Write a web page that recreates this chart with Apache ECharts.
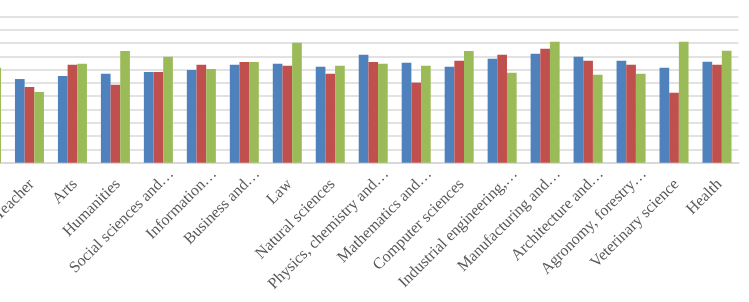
<!DOCTYPE html>
<html>
<head>
<meta charset="utf-8">
<script src="https://cdn.jsdelivr.net/npm/echarts@6/dist/echarts.min.js"></script>
<style>
  html, body { margin: 0; padding: 0; background: #fff; }
  #chart { width: 749px; height: 302px; }
</style>
</head>
<body>
<div id="chart"></div>
<script>
// fields of study (the first one is cut off at the left edge of the picture)
const categories = [
  "Education", "Teacher", "Arts", "Humanities", "Social sciences and\u2026",
  "Information\u2026", "Business and\u2026", "Law", "Natural sciences",
  "Physics, chemistry and\u2026", "Mathematics and\u2026", "Computer sciences",
  "Industrial engineering,\u2026", "Manufacturing and\u2026", "Architecture and\u2026",
  "Agronomy, forestry\u2026", "Veterinary science", "Health"
];

// three series (one grid step = 10)
const seriesBlue  = [null, 62.9, 65.2, 66.9, 68.2, 69.7, 73.7, 74.4, 72.2, 81.2, 75.2, 72.2, 78.2, 82.0, 79.7, 76.7, 71.4, 75.9];
const seriesRed   = [null, 56.9, 73.7, 58.6, 68.2, 73.7, 75.7, 72.9, 66.9, 75.7, 60.2, 76.7, 81.2, 85.7, 76.7, 73.7, 52.6, 73.7];
const seriesGreen = [71.4, 53.2, 74.4, 84.0, 79.7, 70.5, 75.7, 90.2, 72.9, 74.4, 72.9, 84.0, 67.7, 91.0, 66.2, 66.9, 91.0, 84.2];

const yMin = 0;
const yMax = 110;
const yStep = 10;

const colors = { blue: "#4f81bd", red: "#c0504d", green: "#9bbb59", grid: "#d9d9d9", text: "#595959" };
const labelFont = { fontFamily: "Liberation Serif, Times New Roman, serif", fontSize: 16, color: colors.text };

const chart = echarts.init(document.getElementById("chart"), null, { renderer: "canvas" });

const bar = (name, data, color) => ({
  name: name,
  type: "bar",
  data: data,
  barGap: "0%",
  barCategoryGap: "32.5%",
  itemStyle: { color: color }
});

chart.setOption({
  backgroundColor: "#fff",
  animation: false,
  // the picture is a crop, so the plot starts left of the visible area.
  // grid 1 only carries the labels, nudged a little to the right like Excel does
  grid: [
    { left: -35, right: 10.5, top: 16.4, bottom: 139.3, outerBoundsMode: "none" },
    { left: -27.6, right: 3.1, top: 16.4, bottom: 139.3, outerBoundsMode: "none" }
  ],
  xAxis: [
    {
      type: "category",
      data: categories,
      gridIndex: 0,
      axisLine: { lineStyle: { color: colors.grid, width: 2 } },
      axisTick: { show: false },
      axisLabel: { show: false }
    },
    {
      type: "category",
      data: categories,
      gridIndex: 1,
      axisLine: { show: false },
      axisTick: { show: false },
      axisLabel: {
        interval: 0,
        rotate: 45,
        margin: 3,
        verticalAlign: "top",
        hideOverlap: false,
        // truncated labels sit a bit further up-right than whole ones
        formatter: (v) => (v.endsWith("\u2026") ? "{e|" + v + "}" : "{p|" + v + "}"),
        rich: {
          e: labelFont,
          p: Object.assign({ padding: [0, 15, 0, 0] }, labelFont)
        },
        ...labelFont
      }
    }
  ],
  yAxis: [
    {
      type: "value",
      gridIndex: 0,
      min: yMin,
      max: yMax,
      interval: yStep,
      axisLine: { show: false },
      axisTick: { show: false },
      axisLabel: { show: false },
      splitLine: { lineStyle: { color: colors.grid, width: 1.5 } }
    },
    { type: "value", gridIndex: 1, min: yMin, max: yMax, interval: yStep, show: false }
  ],
  series: [
    bar("Series 1", seriesBlue, colors.blue),
    bar("Series 2", seriesRed, colors.red),
    bar("Series 3", seriesGreen, colors.green)
  ]
});
</script>
</body>
</html>
